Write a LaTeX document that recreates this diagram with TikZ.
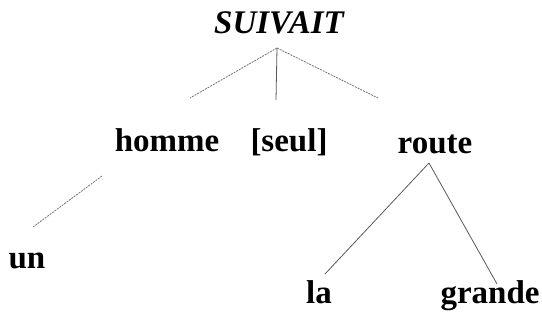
\documentclass[tikz,border=0pt]{standalone}
\usepackage{fontspec}
\setmainfont{Liberation Serif}
\begin{document}
\begin{tikzpicture}[x=1pt,y=-1pt,
  word/.style={font=\fontsize{33}{36}\selectfont\bfseries, anchor=base, inner sep=0pt},
  head/.style={font=\fontsize{33}{36}\selectfont\bfseries\itshape, anchor=base, inner sep=0pt},
  dashedge/.style={draw=black!55, line width=0.8pt, dash pattern=on 2pt off 1pt},
  solidedge/.style={draw=black!65, line width=0.8pt}]
\useasboundingbox (0,0) rectangle (542,322);
\node[head] (suivait) at (279,33) {SUIVAIT};
\node[word] (homme) at (167,151) {homme};
\node[word] (seul) at (289,151) {[seul]};
\node[word] (route) at (435,153) {route};
\node[word] (un) at (27,268) {un};
\node[word] (la) at (319,303) {la};
\node[word] (grande) at (490,303) {grande};
\coordinate (top) at (277,48);
\coordinate (hL) at (190,98);
\coordinate (hS) at (276,100);
\coordinate (hR) at (378,98);
\coordinate (hm) at (102,176);
\coordinate (un1) at (33,227);
\coordinate (rt) at (429,163);
\coordinate (la1) at (325,274);
\coordinate (gr1) at (497,284);
\draw[dashedge] (top) -- (hL);
\draw[solidedge] (top) -- (hS);
\draw[dashedge] (top) -- (hR);
\draw[dashedge] (hm) -- (un1);
\draw[solidedge] (rt) -- (la1);
\draw[solidedge] (rt) -- (gr1);
\end{tikzpicture}
\end{document}
